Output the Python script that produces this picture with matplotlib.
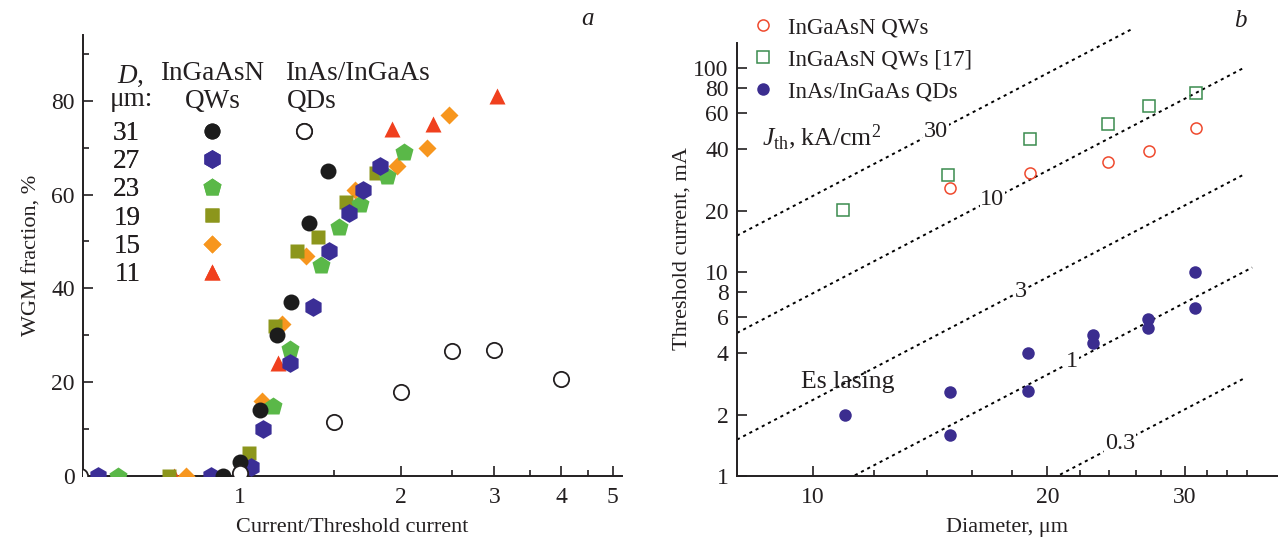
import numpy as np
import matplotlib
matplotlib.use("Agg")
import matplotlib.pyplot as plt
from matplotlib.ticker import FixedLocator, FixedFormatter, NullFormatter, NullLocator
from matplotlib.lines import Line2D

plt.rcParams['font.family'] = ['Liberation Serif', 'DejaVu Serif']
plt.rcParams['mathtext.fontset'] = 'custom'
plt.rcParams['mathtext.rm'] = 'Liberation Serif'
plt.rcParams['mathtext.it'] = 'Liberation Serif:italic'
plt.rcParams['font.size'] = 16

# ---------------- panel a: WGM fraction vs I/Ith ----------------
diameters = ['31', '27', '23', '19', '15', '11']
qw_x = [
    [0.93, 1.0, 1.09, 1.17, 1.245, 1.345, 1.46],
    [0.54, 0.88, 1.05, 1.105, 1.24, 1.37, 1.47, 1.6, 1.7, 1.83],
    [0.59, 1.15, 1.24, 1.42, 1.535, 1.68, 1.89, 2.03],
    [0.735, 1.04, 1.16, 1.28, 1.40, 1.58, 1.80],
    [0.79, 1.10, 1.20, 1.33, 1.64, 1.97, 2.24, 2.47],
    [0.75, 1.18, 1.93, 2.30, 3.03],
]
qw_y = [
    [0, 3.0, 14, 30, 37, 54, 65],
    [0, 0, 2, 10, 24, 36, 48, 56, 61, 66],
    [0, 15, 27, 45, 53, 58, 64, 69],
    [0, 5, 32, 48, 51, 58.5, 64.5],
    [0, 16, 32.5, 47, 61, 66, 70, 77],
    [0, 24, 74, 75, 81],
]
qd_x = [0.5, 1.0, 1.5, 2.0, 2.5, 3.0, 4.0]
qd_y = [0, 0.6, 11.6, 17.8, 26.7, 26.9, 20.7]

qw_colors = ['#1c1c1c', '#3b2e96', '#5ab848', '#8c961c', '#f7961e', '#f0401e']
qw_markers = ['o', 'h', 'p', 's', 'D', '^']
qw_sizes = [11.5, 13.5, 13.5, 10, 9.5, 12]
# draw order: largest D on top
draw_order = [5, 4, 3, 2, 1, 0]

# ---------------- panel b: threshold current vs diameter ----------------
qw_d = [15.0, 19.0, 23.9, 27.0, 31.0]
qw_ith = [25.7, 30.5, 34.5, 39.3, 50.6]
qw17_d = [10.95, 14.9, 19.0, 23.9, 27.0, 31.0]
qw17_ith = [20.2, 30.0, 44.7, 53.3, 64.9, 75.7]
qd_d = [11.0, 15.0, 15.0, 18.9, 18.9, 22.9, 22.9, 26.9, 26.9, 30.9, 30.9]
qd_ith = [2.0, 2.59, 1.59, 4.02, 2.62, 4.93, 4.47, 5.90, 5.30, 9.97, 6.68]

jth_values = [30, 10, 3, 1, 0.3]
jth_labels = ['30', '10', '3', '1', '0.3']
jth_d_end = [25.7, 35.8, 35.8, 36.6, 35.8]
jth_label_d = [14.4, 17.0, 18.5, 21.5, 24.8]

W, H = 1278, 545
fig = plt.figure(figsize=(W / 100, H / 100), dpi=100)
ax1 = fig.add_axes([83 / W, 1 - 476 / H, (621.7 - 83) / W, (476 - 35) / H])
ax2 = fig.add_axes([737 / W, 1 - 476 / H, (W - 737) / W, (476 - 21) / H])

ink = '#231f20'
for ax in (ax1, ax2):
    for s in ('top', 'right'):
        ax.spines[s].set_visible(False)
    for s in ('left', 'bottom'):
        ax.spines[s].set_linewidth(1.4)
        ax.spines[s].set_color(ink)
    ax.tick_params(which='both', direction='in', width=1.2, color=ink,
                   labelsize=17, labelcolor=ink)
    ax.tick_params(which='major', length=7.5, pad=6)
    ax.tick_params(which='minor', length=4.5)
    ax.tick_params(axis='x', which='major', pad=8)

# panel a
for i in draw_order:
    ax1.plot(qw_x[i], qw_y[i], linestyle='none', marker=qw_markers[i],
             ms=qw_sizes[i], color=qw_colors[i], mec='none', zorder=3 + (5 - i))
ax1.plot(qd_x, qd_y, linestyle='none', marker='o', ms=11, mfc='white',
         mec=ink, mew=1.3, zorder=10)

ax1.set_xscale('log')
ax1.set_xlim(0.507, 5.2)
ax1.set_ylim(0, 94)
ax1.xaxis.set_major_locator(FixedLocator([1, 2, 3, 4, 5]))
ax1.xaxis.set_major_formatter(FixedFormatter(['1', '2', '3', '4', '5']))
ax1.xaxis.set_minor_locator(FixedLocator([1.5, 2.5, 3.5, 4.5]))
ax1.xaxis.set_minor_formatter(NullFormatter())
ax1.yaxis.set_major_locator(FixedLocator([0, 20, 40, 60, 80]))
ax1.yaxis.set_minor_locator(FixedLocator([10, 30, 50, 70, 90]))
ax1.set_xlabel('Current/Threshold current', fontsize=16, color=ink, labelpad=7)
ax1.set_ylabel('WGM fraction, %', fontsize=16, color=ink, labelpad=7)
ax1.text(0.937, 1.036, 'a', transform=ax1.transAxes, fontsize=18,
         style='italic', ha='center', va='center', color=ink)

# table-like legend for panel a
tfs = 19.5
handles, labels = [], []
for i in range(6):
    handles.append(Line2D([], [], linestyle='none', marker=qw_markers[i],
                          ms=qw_sizes[i], color=qw_colors[i], mec='none'))
    labels.append(diameters[i])
handles.append(Line2D([], [], linestyle='none', marker='o', ms=11,
                      mfc='white', mec=ink, mew=1.3))
labels.append('')
for i in range(5):
    handles.append(Line2D([], [], linestyle='none'))
    labels.append('')
leg1 = ax1.legend(handles, labels, ncol=2, markerfirst=False, frameon=False,
                  loc='upper left', bbox_to_anchor=(113 / W, 1 - 121 / H),
                  bbox_transform=fig.transFigure, handlelength=1.5,
                  handletextpad=1.91, columnspacing=-0.03, labelspacing=0.12,
                  borderpad=0, borderaxespad=0, fontsize=tfs)
for t in leg1.get_texts():
    t.set_color(ink)
ax1.add_artist(leg1)

fig.text(131 / W, 1 - 76 / H, '$D$,', ha='center', va='center', fontsize=tfs, color=ink)
fig.text(131 / W, 1 - 100 / H, 'μm:', ha='center', va='center', fontsize=tfs, color=ink)
fig.text(212 / W, 1 - 73 / H, 'InGaAsN', ha='center', va='center', fontsize=tfs, color=ink)
fig.text(213 / W, 1 - 101 / H, 'QWs', ha='center', va='center', fontsize=tfs, color=ink)
fig.text(285 / W, 1 - 73 / H, 'InAs/InGaAs', ha='left', va='center', fontsize=tfs, color=ink)
fig.text(287 / W, 1 - 101 / H, 'QDs', ha='left', va='center', fontsize=tfs, color=ink)

# panel b
d_line0 = 8.0
for j, jv in enumerate(jth_values):
    d = np.array([d_line0, jth_d_end[j]])
    ax2.plot(d, jv * np.pi * d ** 2 / 400.0, color='black', lw=1.4,
             linestyle=(0, (1.6, 2.0)), zorder=1)
    dl = jth_label_d[j]
    ax2.text(dl, jv * np.pi * dl ** 2 / 400.0, jth_labels[j], ha='center',
             va='center', fontsize=17.5, color=ink, zorder=2,
             bbox=dict(facecolor='white', edgecolor='none', pad=0.5))

l_qw, = ax2.plot(qw_d, qw_ith, linestyle='none', marker='o', ms=8, mfc='none',
                 mec='#ef4a2e', mew=1.1, zorder=3)
l_qw17, = ax2.plot(qw17_d, qw17_ith, linestyle='none', marker='s', ms=8.5,
                   mfc='none', mec='#3a8c4e', mew=1.1, zorder=3)
l_qd, = ax2.plot(qd_d, qd_ith, linestyle='none', marker='o', ms=9,
                 color='#3b2d8f', mec='none', zorder=3)

ax2.set_xscale('log')
ax2.set_yscale('log')
ax2.set_xlim(8, 39.5)
ax2.set_ylim(1, 170)
ax2.spines['left'].set_bounds(1, 133)
ax2.xaxis.set_major_locator(FixedLocator([10, 20, 30]))
ax2.xaxis.set_major_formatter(FixedFormatter(['10', '20', '30']))
ax2.xaxis.set_minor_locator(FixedLocator([12, 14, 16, 18, 22, 24, 26, 28, 32, 34, 36]))
ax2.xaxis.set_minor_formatter(NullFormatter())
yt = [1, 2, 4, 6, 8, 10, 20, 40, 60, 80, 100]
ax2.yaxis.set_major_locator(FixedLocator(yt))
ax2.yaxis.set_major_formatter(FixedFormatter([str(v) for v in yt]))
ax2.yaxis.set_minor_locator(NullLocator())
ax2.set_xlabel('Diameter, μm', fontsize=16, color=ink, labelpad=7)
ax2.set_ylabel('Threshold current, mA', fontsize=16, color=ink, labelpad=1)

ax2.text(8.6, 46, r'$J_{\rm th}$, kA/cm$^2$', ha='left', va='center',
         fontsize=18.5, color=ink)
ax2.text(11.1, 2.9, 'Es lasing', ha='center', va='center', fontsize=18.5, color=ink)
ax2.text(0.93, 1.0, 'b', transform=ax2.transAxes, fontsize=18,
         style='italic', ha='center', va='center', color=ink)

leg2 = ax2.legend([l_qw, l_qw17, l_qd],
                  ['InGaAsN QWs', 'InGaAsN QWs [17]', 'InAs/InGaAs QDs'],
                  loc='upper left', bbox_to_anchor=(752 / W, 1 - 17 / H),
                  bbox_transform=fig.transFigure, frameon=False,
                  handlelength=1.0, handletextpad=0.55, labelspacing=0.48,
                  borderpad=0, borderaxespad=0, fontsize=16.5)
for t in leg2.get_texts():
    t.set_color(ink)

fig.savefig('out.png', dpi=100)
